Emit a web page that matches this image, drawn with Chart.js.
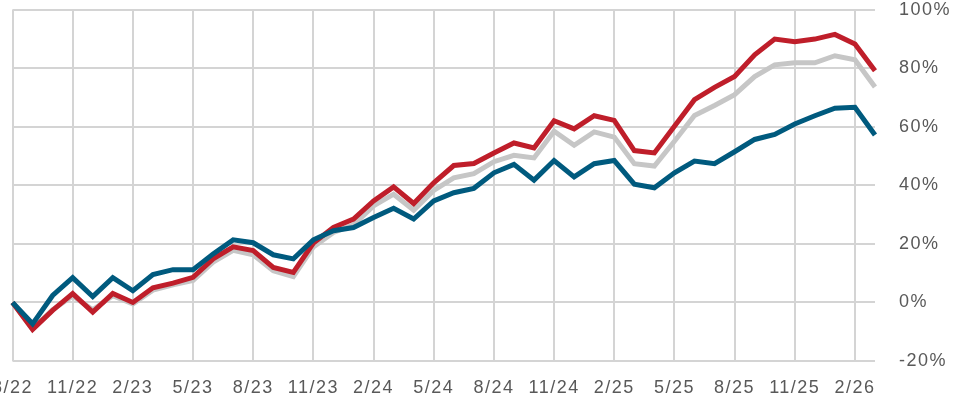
<!DOCTYPE html>
<html>
<head>
<meta charset="utf-8">
<script src="https://cdn.jsdelivr.net/npm/chart.js@4/dist/chart.umd.min.js"></script>
<style>
  html, body { margin: 0; padding: 0; background: #fff; overflow: hidden; }
  #wrap { position: absolute; left: -24px; top: -25px; width: 990px; height: 426px; }
</style>
</head>
<body>
<div id="wrap"><canvas id="chart"></canvas></div>
<script>
const months = [
  "8/22","9/22","10/22","11/22","12/22",
  "1/23","2/23","3/23","4/23","5/23","6/23","7/23","8/23","9/23","10/23","11/23","12/23",
  "1/24","2/24","3/24","4/24","5/24","6/24","7/24","8/24","9/24","10/24","11/24","12/24",
  "1/25","2/25","3/25","4/25","5/25","6/25","7/25","8/25","9/25","10/25","11/25","12/25",
  "1/26","2/26","3/26"
];

// cumulative return, %
const blueSeries = [
  0, -7.3, 2.4, 8.5, 2.0, 8.5, 4.0, 9.5, 11.2, 11.2, 16.6, 21.4, 20.4, 16.3, 14.9, 21.4,
  24.5, 25.6, 29.0, 32.2, 28.5, 34.7, 37.5, 39.0, 44.3, 47.2, 41.8, 48.5, 42.9, 47.4, 48.5,
  40.4, 39.2, 44.3, 48.3, 47.4, 51.5, 55.7, 57.4, 61.0, 63.8, 66.4, 66.7, 57.2
];
const redSeries = [
  0, -9.2, -2.7, 3.0, -3.3, 3.1, 0.0, 5.0, 6.6, 8.6, 14.9, 19.0, 17.7, 12.0, 10.3, 20.3,
  25.6, 28.5, 34.7, 39.5, 33.8, 40.9, 46.8, 47.5, 51.1, 54.5, 52.8, 62.1, 59.3, 63.8, 62.2,
  51.9, 51.1, 60.2, 69.3, 73.5, 77.2, 84.6, 90.0, 89.1, 90.0, 91.6, 88.3, 79.2
];
const graySeries = [
  0, -9.0, -2.5, 2.2, -2.5, 2.3, -0.5, 4.2, 6.0, 7.5, 13.8, 17.8, 16.3, 10.8, 8.8, 19.0,
  23.9, 26.5, 33.0, 37.0, 31.5, 38.3, 42.6, 44.0, 48.1, 50.3, 49.4, 58.5, 53.7, 58.3, 56.5,
  47.4, 46.6, 55.1, 63.9, 67.3, 71.0, 77.2, 81.2, 81.9, 81.9, 84.3, 82.9, 73.6
];

const gridColor = "#d4d4d4";
const textColor = "#595959";

// wider letter spacing like the original
const spacing = {
  id: "spacing",
  beforeInit(c) { c.ctx.letterSpacing = "1.5px"; },
  beforeLayout(c) { c.ctx.letterSpacing = "1.5px"; },
  beforeDraw(c) { c.ctx.letterSpacing = "1.5px"; }
};

function line(data, color) {
  return {
    data,
    borderColor: color,
    borderWidth: 5,
    pointRadius: 0,
    tension: 0,
    fill: false
  };
}

new Chart(document.getElementById("chart"), {
  type: "line",
  data: {
    labels: months,
    datasets: [
      line(blueSeries, "#005a7e"),
      line(redSeries, "#bf1e2a"),
      line(graySeries, "#c6c6c6")
    ]
  },
  options: {
    responsive: true,
    maintainAspectRatio: false,
    animation: false,
    layout: { padding: { left: 29, top: 6, right: 0, bottom: 0 } },
    plugins: { legend: { display: false }, tooltip: { enabled: false } },
    scales: {
      x: {
        offset: false,
        grid: { color: gridColor, lineWidth: 2, drawTicks: false },
        border: { display: false },
        ticks: {
          autoSkip: false,
          maxRotation: 0,
          padding: 16,
          color: textColor,
          font: { family: "Liberation Sans", size: 18 },
          callback: (v, i) => i % 3 === 0 ? months[i] : null
        },
        afterFit: s => { s.height = 40; }
      },
      y: {
        position: "right",
        min: -20,
        max: 100,
        grid: { color: gridColor, lineWidth: 2, drawTicks: false },
        border: { display: false },
        ticks: {
          stepSize: 20,
          padding: 24,
          color: textColor,
          font: { family: "Liberation Sans", size: 18 },
          callback: v => v + "%"
        },
        afterFit: s => { s.width = 91; }
      }
    }
  },
  plugins: [spacing]
});
</script>
</body>
</html>
